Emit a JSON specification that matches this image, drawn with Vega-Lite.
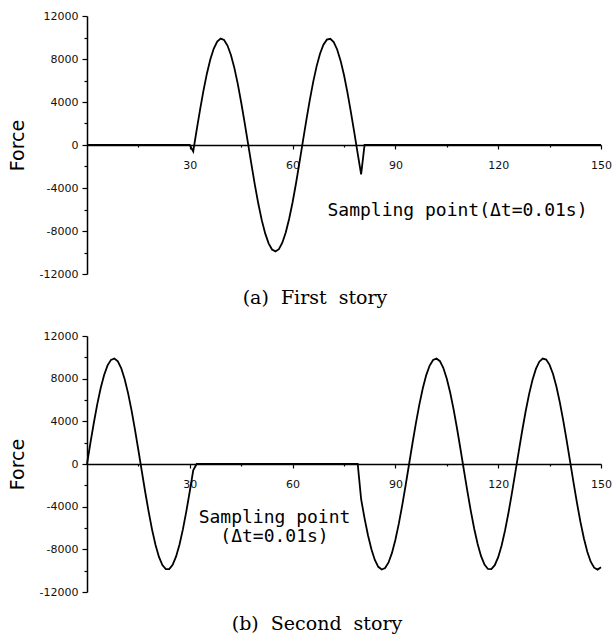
{
  "$schema": "https://vega.github.io/schema/vega-lite/v6.json",
  "padding": {"left": 8, "top": 10, "right": 2, "bottom": 2},
  "background": "white",
  "spacing": 22,
  "config": {
    "view": {"stroke": null},
    "axis": {"grid": false, "domainColor": "#000", "domainWidth": 1.5, "tickColor": "#000", "tickWidth": 1.2, "labelColor": "#111", "titleColor": "#000", "labelFont": "DejaVu Sans", "labelFontSize": 11, "labelOverlap": false, "labelFlush": false}
  },
  "datasets": {
    "top": [
      {"x": 0, "f": 0}, {"x": 30, "f": 0}, {"x": 31, "f": -592}, {"x": 32, "f": 1376}, {"x": 33, "f": 3291}, {"x": 34, "f": 5075},
      {"x": 35, "f": 6657}, {"x": 36, "f": 7975}, {"x": 37, "f": 8976}, {"x": 38, "f": 9626}, {"x": 39, "f": 9893}, {"x": 40, "f": 9767},
      {"x": 41, "f": 9253}, {"x": 42, "f": 8379}, {"x": 43, "f": 7174}, {"x": 44, "f": 5682}, {"x": 45, "f": 3957}, {"x": 46, "f": 2083},
      {"x": 47, "f": 128}, {"x": 48, "f": -1835}, {"x": 49, "f": -3730}, {"x": 50, "f": -5469}, {"x": 51, "f": -6990}, {"x": 52, "f": -8223},
      {"x": 53, "f": -9146}, {"x": 54, "f": -9720}, {"x": 55, "f": -9898}, {"x": 56, "f": -9689}, {"x": 57, "f": -9086}, {"x": 58, "f": -8132},
      {"x": 59, "f": -6865}, {"x": 60, "f": -5322}, {"x": 61, "f": -3556}, {"x": 62, "f": -1631}, {"x": 63, "f": 337}, {"x": 64, "f": 2289},
      {"x": 65, "f": 4150}, {"x": 66, "f": 5846}, {"x": 67, "f": 7313}, {"x": 68, "f": 8488}, {"x": 69, "f": 9330}, {"x": 70, "f": 9800},
      {"x": 71, "f": 9883}, {"x": 72, "f": 9572}, {"x": 73, "f": 8886}, {"x": 74, "f": 7850}, {"x": 75, "f": 6507}, {"x": 76, "f": 4895},
      {"x": 77, "f": 3083}, {"x": 78, "f": 1168}, {"x": 79, "f": -800}, {"x": 80, "f": -2736}, {"x": 81, "f": 0}, {"x": 150, "f": 0}
    ],
    "bottom": [
      {"x": 0, "f": 0}, {"x": 1, "f": 1974}, {"x": 2, "f": 3869}, {"x": 3, "f": 5608}, {"x": 4, "f": 7122}, {"x": 5, "f": 8351},
      {"x": 6, "f": 9244}, {"x": 7, "f": 9764}, {"x": 8, "f": 9893}, {"x": 9, "f": 9625}, {"x": 10, "f": 8973}, {"x": 11, "f": 7952},
      {"x": 12, "f": 6624}, {"x": 13, "f": 5025}, {"x": 14, "f": 3219}, {"x": 15, "f": 1289}, {"x": 16, "f": -695}, {"x": 17, "f": -2648},
      {"x": 18, "f": -4489}, {"x": 19, "f": -6171}, {"x": 20, "f": -7600}, {"x": 21, "f": -8708}, {"x": 22, "f": -9475}, {"x": 23, "f": -9854},
      {"x": 24, "f": -9845}, {"x": 25, "f": -9445}, {"x": 26, "f": -8669}, {"x": 27, "f": -7552}, {"x": 28, "f": -6106}, {"x": 29, "f": -4413},
      {"x": 30, "f": -2556}, {"x": 31, "f": -596}, {"x": 32, "f": 0}, {"x": 79, "f": 0},
      {"x": 80, "f": -3304}, {"x": 81, "f": -5092}, {"x": 82, "f": -6678}, {"x": 83, "f": -7997}, {"x": 84, "f": -8997}, {"x": 85, "f": -9639},
      {"x": 86, "f": -9896}, {"x": 87, "f": -9757}, {"x": 88, "f": -9230}, {"x": 89, "f": -8334}, {"x": 90, "f": -7104}, {"x": 91, "f": -5593},
      {"x": 92, "f": -3857}, {"x": 93, "f": -1968}, {"x": 94, "f": 0}, {"x": 95, "f": 1968}, {"x": 96, "f": 3857}, {"x": 97, "f": 5593},
      {"x": 98, "f": 7104}, {"x": 99, "f": 8334}, {"x": 100, "f": 9230}, {"x": 101, "f": 9757}, {"x": 102, "f": 9896}, {"x": 103, "f": 9639},
      {"x": 104, "f": 8998}, {"x": 105, "f": 7997}, {"x": 106, "f": 6679}, {"x": 107, "f": 5093}, {"x": 108, "f": 3304}, {"x": 109, "f": 1382},
      {"x": 110, "f": -594}, {"x": 111, "f": -2546}, {"x": 112, "f": -4397}, {"x": 113, "f": -6072}, {"x": 114, "f": -7506}, {"x": 115, "f": -8639},
      {"x": 116, "f": -9430}, {"x": 117, "f": -9840}, {"x": 118, "f": -9860}, {"x": 119, "f": -9486}, {"x": 120, "f": -8734}, {"x": 121, "f": -7634},
      {"x": 122, "f": -6228}, {"x": 123, "f": -4574}, {"x": 124, "f": -2737}, {"x": 125, "f": -792}, {"x": 126, "f": 1185}, {"x": 127, "f": 3116},
      {"x": 128, "f": 4920}, {"x": 129, "f": 6529}, {"x": 130, "f": 7878}, {"x": 131, "f": 8914}, {"x": 132, "f": 9592}, {"x": 133, "f": 9887},
      {"x": 134, "f": 9789}, {"x": 135, "f": 9299}, {"x": 136, "f": 8439}, {"x": 137, "f": 7242}, {"x": 138, "f": 5755}, {"x": 139, "f": 4039},
      {"x": 140, "f": 2162}, {"x": 141, "f": 199}, {"x": 142, "f": -1772}, {"x": 143, "f": -3673}, {"x": 144, "f": -5427}, {"x": 145, "f": -6965},
      {"x": 146, "f": -8223}, {"x": 147, "f": -9157}, {"x": 148, "f": -9721}, {"x": 149, "f": -9900}, {"x": 150, "f": -9682}
    ]
  },
  "vconcat": [
    {
      "width": 514,
      "height": 258,
      "data": {"name": "top"},
      "title": {"text": "(a)\u00a0\u00a0First\u00a0\u00a0story", "orient": "bottom", "anchor": "middle", "font": "DejaVu Serif", "fontSize": 19, "fontWeight": "normal", "color": "#000", "offset": 10, "dx": -29},
      "mark": {"type": "line", "color": "#000", "strokeWidth": 1.8, "clip": false},
      "encoding": {
        "x": {
          "field": "x", "type": "quantitative",
          "scale": {"domain": [0, 150], "nice": false, "zero": false},
          "axis": {
            "orient": "bottom", "offset": -129,
            "values": [15, 30, 45, 60, 75, 90, 105, 120, 135, 150],
            "labelExpr": "datum.value % 30 === 0 ? '' + datum.value : ''",
            "tickSize": {"condition": {"test": "datum.value % 30 === 0", "value": 4}, "value": 2},
            "labelPadding": 10,
            "title": "Sampling point(Δt=0.01s)",
            "titleFont": "DejaVu Sans Mono", "titleFontSize": 18, "titleFontWeight": "normal",
            "titleX": 370, "titleY": 70, "titleAlign": "center", "titleBaseline": "alphabetic"
          }
        },
        "y": {
          "field": "f", "type": "quantitative",
          "scale": {"domain": [-12000, 12000], "nice": false},
          "axis": {
            "orient": "left",
            "values": [-12000, -10000, -8000, -6000, -4000, -2000, 0, 2000, 4000, 6000, 8000, 10000, 12000],
            "labelExpr": "datum.value % 4000 === 0 ? '' + datum.value : ''",
            "tickSize": {"condition": {"test": "datum.value % 4000 === 0", "value": 5}, "value": 3},
            "labelPadding": 4,
            "title": "Force", "titleFont": "DejaVu Sans", "titleFontSize": 19, "titleFontWeight": "normal", "titlePadding": 12
          }
        }
      }
    },
    {
      "width": 514,
      "height": 256,
      "data": {"name": "bottom"},
      "title": {"text": "(b)\u00a0\u00a0Second\u00a0\u00a0story", "orient": "bottom", "anchor": "middle", "font": "DejaVu Serif", "fontSize": 19, "fontWeight": "normal", "color": "#000", "offset": 18, "dx": -27},
      "mark": {"type": "line", "color": "#000", "strokeWidth": 1.8, "clip": false},
      "encoding": {
        "x": {
          "field": "x", "type": "quantitative",
          "scale": {"domain": [0, 150], "nice": false, "zero": false},
          "axis": {
            "orient": "bottom", "offset": -128,
            "values": [15, 30, 45, 60, 75, 90, 105, 120, 135, 150],
            "labelExpr": "datum.value % 30 === 0 ? '' + datum.value : ''",
            "tickSize": {"condition": {"test": "datum.value % 30 === 0", "value": 4}, "value": 2},
            "labelPadding": 10,
            "title": ["Sampling point", "(Δt=0.01s)"],
            "titleFont": "DejaVu Sans Mono", "titleFontSize": 18, "titleFontWeight": "normal", "titleLineHeight": 19,
            "titleX": 187, "titleY": 58, "titleAlign": "center", "titleBaseline": "alphabetic"
          }
        },
        "y": {
          "field": "f", "type": "quantitative",
          "scale": {"domain": [-12000, 12000], "nice": false},
          "axis": {
            "orient": "left",
            "values": [-12000, -10000, -8000, -6000, -4000, -2000, 0, 2000, 4000, 6000, 8000, 10000, 12000],
            "labelExpr": "datum.value % 4000 === 0 ? '' + datum.value : ''",
            "tickSize": {"condition": {"test": "datum.value % 4000 === 0", "value": 5}, "value": 3},
            "labelPadding": 4,
            "title": "Force", "titleFont": "DejaVu Sans", "titleFontSize": 19, "titleFontWeight": "normal", "titlePadding": 12
          }
        }
      }
    }
  ]
}
